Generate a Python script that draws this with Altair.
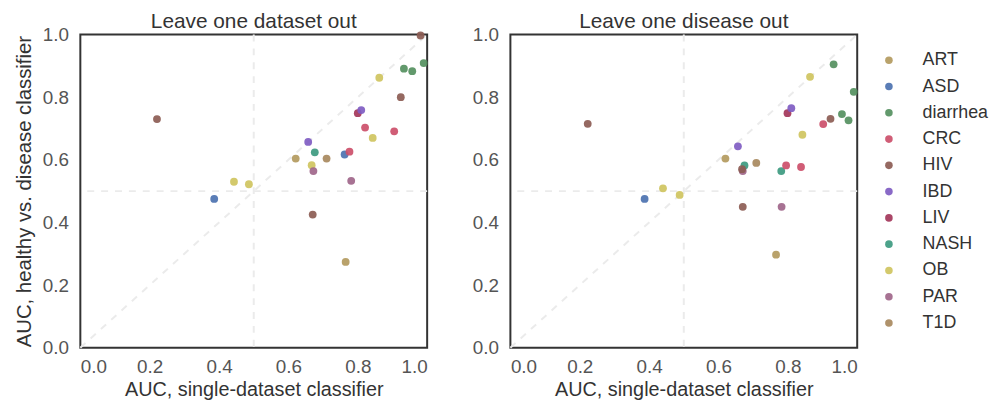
import altair as alt
import pandas as pd

diseases = ["ART", "ASD", "diarrhea", "CRC", "HIV", "IBD", "LIV", "NASH", "OB", "PAR", "T1D"]
colors = ["#b39a5e", "#4c72b0", "#55905f", "#cc4f6a", "#8c5c54", "#7f5cc2",
          "#a3365a", "#3d9a80", "#cfc45f", "#a0668a", "#a8895e"]

# Leave one dataset out
left_x = [0.221, 0.981, 0.933, 0.957, 0.990, 0.862, 0.924, 0.800, 0.810, 0.821, 0.843, 0.905, 0.657,
          0.676, 0.621, 0.710, 0.762, 0.776, 0.667, 0.672, 0.781, 0.443, 0.486, 0.386, 0.670, 0.765]
left_y = [0.730, 0.997, 0.891, 0.883, 0.909, 0.862, 0.800, 0.749, 0.759, 0.703, 0.670, 0.691, 0.657,
          0.624, 0.604, 0.604, 0.617, 0.626, 0.583, 0.564, 0.533, 0.530, 0.522, 0.475, 0.425, 0.274]
left_d = ["HIV", "HIV", "diarrhea", "diarrhea", "diarrhea", "OB", "HIV", "LIV", "IBD", "CRC", "OB", "CRC", "IBD",
          "NASH", "ART", "T1D", "ASD", "CRC", "OB", "PAR", "PAR", "OB", "OB", "ASD", "HIV", "ART"]

# Leave one disease out
right_x = [0.223, 0.932, 0.864, 0.990, 0.799, 0.810, 0.902, 0.923, 0.956, 0.975, 0.842, 0.656, 0.620,
           0.675, 0.670, 0.668, 0.709, 0.781, 0.795, 0.838, 0.440, 0.488, 0.387, 0.670, 0.782, 0.766]
right_y = [0.715, 0.905, 0.865, 0.817, 0.749, 0.765, 0.714, 0.731, 0.746, 0.726, 0.680, 0.643, 0.604,
           0.582, 0.564, 0.570, 0.590, 0.564, 0.582, 0.577, 0.509, 0.488, 0.475, 0.450, 0.450, 0.297]
right_d = ["HIV", "diarrhea", "OB", "diarrhea", "LIV", "IBD", "CRC", "HIV", "diarrhea", "diarrhea", "OB", "IBD", "ART",
           "NASH", "PAR", "HIV", "T1D", "NASH", "CRC", "CRC", "OB", "OB", "ASD", "HIV", "PAR", "ART"]

ref_line = [0.0, 1.0]
ref_mid = [0.5]
ticks = [0.0, 0.2, 0.4, 0.6, 0.8, 1.0]

XT = "AUC, single-dataset classifier"
YT = "AUC, healthy vs. disease classifier"
DASH = [7, 7]
REFC = "#ebebeb"


def panel(xs, ys, ds, title, show_y):
    yt = YT if show_y else None
    sc = alt.Scale(domain=[0, 1], nice=False, zero=False)
    xax = alt.Axis(values=ticks, format=".1f", labelPadding=10, titlePadding=3, titleFontSize=20)
    yax = alt.Axis(values=ticks, format=".1f", labelPadding=12, titlePadding=8, titleFontSize=20.5)
    df = pd.DataFrame({"x": xs, "y": ys, "disease": ds})
    dl = pd.DataFrame({"v": ref_line})
    dm = pd.DataFrame({"v": ref_mid})
    diag = alt.Chart(dl).mark_line(strokeDash=DASH, color=REFC, strokeWidth=2).encode(
        x=alt.X("v:Q", scale=sc, axis=xax, title=XT),
        y=alt.Y("v:Q", scale=sc, axis=yax, title=yt),
    )
    vline = alt.Chart(dm).mark_rule(strokeDash=DASH, color=REFC, strokeWidth=2).encode(
        x=alt.X("v:Q", scale=sc, axis=xax, title=XT),
    )
    hline = alt.Chart(dm).mark_rule(strokeDash=DASH, color=REFC, strokeWidth=2).encode(
        y=alt.Y("v:Q", scale=sc, axis=yax, title=yt),
    )
    pts = alt.Chart(df).mark_circle(size=62, opacity=0.92).encode(
        x=alt.X("x:Q", scale=sc, axis=xax, title=XT),
        y=alt.Y("y:Q", scale=sc, axis=yax, title=yt),
        color=alt.Color(
            "disease:N",
            scale=alt.Scale(domain=diseases, range=colors),
            legend=alt.Legend(
                title=None, orient="none", legendX=807, legendY=17,
                symbolType="circle", symbolSize=58, labelFontSize=18,
                labelColor="#333", rowPadding=8.5, labelOffset=25,
            ),
        ),
    )
    return alt.layer(diag, vline, hline, pts).properties(
        width=350, height=316,
        title=alt.TitleParams(title, frame="group"),
    )


left = panel(left_x, left_y, left_d, "Leave one dataset out", True)
right = panel(right_x, right_y, right_d, "Leave one disease out", False)

chart = alt.hconcat(left, right, spacing=39).properties(
    padding={"top": 0, "left": 5, "right": 0, "bottom": 0},
).configure(
    font="Liberation Sans",
).configure_view(
    stroke="#333333", strokeWidth=2,
).configure_axis(
    grid=False, ticks=False, domain=False,
    labelFontSize=19, labelColor="#555555",
    titleColor="#333333", titleFontWeight="normal",
).configure_title(
    fontSize=21, fontWeight="normal", color="#333333", offset=-6.4,
)

chart.save("out.html", embed_options={"renderer": "svg", "actions": False})
